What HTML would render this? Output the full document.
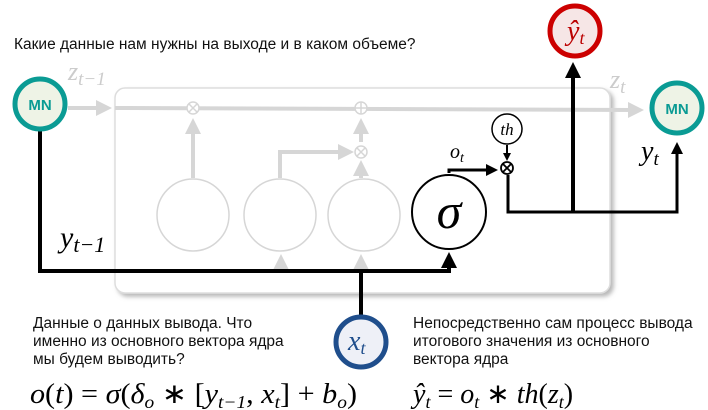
<!DOCTYPE html>
<html><head><meta charset="utf-8"><style>
body{margin:0;background:#fff;width:708px;height:410px;overflow:hidden}
svg{display:block}
.t{font-family:"Liberation Sans",sans-serif;font-size:15.5px;fill:#111}
.m{font-family:"Liberation Serif",serif;font-style:italic}
</style></head><body>
<svg width="708" height="410">
<defs>
<marker id="ab" markerWidth="4" markerHeight="4" refX="3" refY="2" orient="auto" markerUnits="strokeWidth"><path d="M0,0L4,2L0,4z" fill="#000"/></marker>
<marker id="ag" markerWidth="4" markerHeight="4" refX="3" refY="2" orient="auto" markerUnits="strokeWidth"><path d="M0,0L4,2L0,4z" fill="#d6d6d6"/></marker>
<filter id="sh"><feDropShadow dx="3" dy="3" stdDeviation="2" flood-color="#888" flood-opacity="0.6"/></filter>
</defs>
<text class="t" x="14" y="49">Какие данные нам нужны на выходе и в каком объеме?</text>
<rect x="115" y="88" width="495" height="205" rx="10" fill="#fff" stroke="#ddd" stroke-width="1.5" filter="url(#sh)"/>
<g stroke="#d6d6d6" stroke-width="4" fill="none">
<line x1="68" y1="108" x2="108" y2="108" marker-end="url(#ag)"/>
<line x1="115" y1="108" x2="640" y2="110" marker-end="url(#ag)"/>
<line x1="193" y1="178" x2="193" y2="122" marker-end="url(#ag)"/>
<polyline points="280,178 280,152 350,152" marker-end="url(#ag)"/>
<line x1="361" y1="142" x2="361" y2="122" marker-end="url(#ag)"/>
<line x1="361" y1="178" x2="361" y2="164" marker-end="url(#ag)"/>
<line x1="281" y1="271" x2="281" y2="258" marker-end="url(#ag)"/>
<line x1="361" y1="271" x2="361" y2="258" marker-end="url(#ag)"/>
</g>
<g stroke="#d6d6d6" stroke-width="1.5" fill="#fff">
<circle cx="193" cy="108" r="6"/><path d="M189,104L197,112M197,104L189,112"/>
<circle cx="361" cy="108" r="6"/><path d="M355,108H367M361,102V114"/>
<circle cx="361" cy="152" r="6"/><path d="M357,148L365,156M365,148L357,156"/>
<circle cx="193" cy="215" r="36"/>
<circle cx="280" cy="215" r="36"/>
<circle cx="364" cy="215" r="36"/>
</g>
<text class="m" x="68" y="80" font-size="26" fill="#ccc">z<tspan font-size="19" dy="5">t−1</tspan></text>
<text class="m" x="610" y="88" font-size="26" fill="#ccc">z<tspan font-size="19" dy="5">t</tspan></text>
<g stroke="#000" stroke-width="4" fill="none">
<polyline points="40,130 40,271 449,271 449,256" marker-end="url(#ab)"/>
<line x1="361" y1="316" x2="361" y2="271"/>
<polyline points="449,173 449,170 495,170" stroke-width="3" marker-end="url(#ab)"/>
<line x1="507" y1="145" x2="507" y2="159" stroke-width="2" marker-end="url(#ab)"/>
<polyline points="508,175 508,212 677,212 677,145" stroke-width="3" marker-end="url(#ab)"/>
<line x1="573" y1="212" x2="573" y2="66" marker-end="url(#ab)"/>
</g>
<circle cx="507" cy="168" r="6" fill="#fff" stroke="#000" stroke-width="1.8"/><path d="M503,164L511,172M511,164L503,172" stroke="#000" stroke-width="1.8"/>
<circle cx="507" cy="129" r="15" fill="#fff" stroke="#000" stroke-width="1.5"/>
<text class="m" x="507" y="135" font-size="17" text-anchor="middle">th</text>
<circle cx="449" cy="212" r="37" fill="#fff" stroke="#000" stroke-width="2"/>
<text class="m" x="449" y="228" font-size="50" text-anchor="middle">σ</text>
<text class="m" x="450" y="158" font-size="20">o<tspan font-size="14" dy="4">t</tspan></text>
<text class="m" x="60" y="247" font-size="30">y<tspan font-size="22" dy="5">t−1</tspan></text>
<text class="m" x="641" y="160" font-size="28">y<tspan font-size="19" dy="5">t</tspan></text>
<g><circle cx="40" cy="104" r="25" fill="#eef3e6" stroke="#0a9b94" stroke-width="5"/><text x="40" y="110" text-anchor="middle" font-family="Liberation Sans" font-weight="bold" font-size="15" fill="#0a9b94">MN</text></g>
<g><circle cx="677" cy="108" r="25" fill="#eef3e6" stroke="#0a9b94" stroke-width="5"/><text x="677" y="114" text-anchor="middle" font-family="Liberation Sans" font-weight="bold" font-size="15" fill="#0a9b94">MN</text></g>
<g><circle cx="575" cy="31" r="25" fill="#f6e6e6" stroke="#c00" stroke-width="5"/><text class="m" x="567" y="40" font-size="28" fill="#b00">ŷ<tspan font-size="18" dy="4">t</tspan></text></g>
<g><circle cx="361" cy="342" r="25" fill="#eef0f7" stroke="#1f4e8c" stroke-width="5"/><text class="m" x="348" y="350" font-size="28" fill="#1f4e8c">x<tspan font-size="18" dy="4">t</tspan></text></g>
<text class="t" x="33" y="328">Данные о данных вывода. Что</text>
<text class="t" x="33" y="346">именно из основного вектора ядра</text>
<text class="t" x="33" y="364">мы будем выводить?</text>
<text class="t" x="413" y="328">Непосредственно сам процесс вывода</text>
<text class="t" x="413" y="346">итогового значения из основного</text>
<text class="t" x="413" y="364">вектора ядра</text>
<text x="30" y="403" font-family="Liberation Serif" font-size="28" textLength="327" lengthAdjust="spacingAndGlyphs"><tspan font-style="italic">o</tspan>(<tspan font-style="italic">t</tspan>) = <tspan font-style="italic">σ</tspan>(<tspan font-style="italic">δ</tspan><tspan font-size="18" dy="5" font-style="italic">o</tspan><tspan dy="-5"> ∗ [</tspan><tspan font-style="italic">y</tspan><tspan font-size="18" dy="5" font-style="italic">t−1</tspan><tspan dy="-5">, </tspan><tspan font-style="italic">x</tspan><tspan font-size="18" dy="5" font-style="italic">t</tspan><tspan dy="-5">] + </tspan><tspan font-style="italic">b</tspan><tspan font-size="18" dy="5" font-style="italic">o</tspan><tspan dy="-5">)</tspan></text>
<text x="413" y="403" font-family="Liberation Serif" font-size="28"><tspan font-style="italic">ŷ</tspan><tspan font-size="18" dy="5" font-style="italic">t</tspan><tspan dy="-5"> = </tspan><tspan font-style="italic">o</tspan><tspan font-size="18" dy="5" font-style="italic">t</tspan><tspan dy="-5"> ∗ </tspan><tspan font-style="italic">th</tspan>(<tspan font-style="italic">z</tspan><tspan font-size="18" dy="5" font-style="italic">t</tspan><tspan dy="-5">)</tspan></text>
</svg>
</body></html>
